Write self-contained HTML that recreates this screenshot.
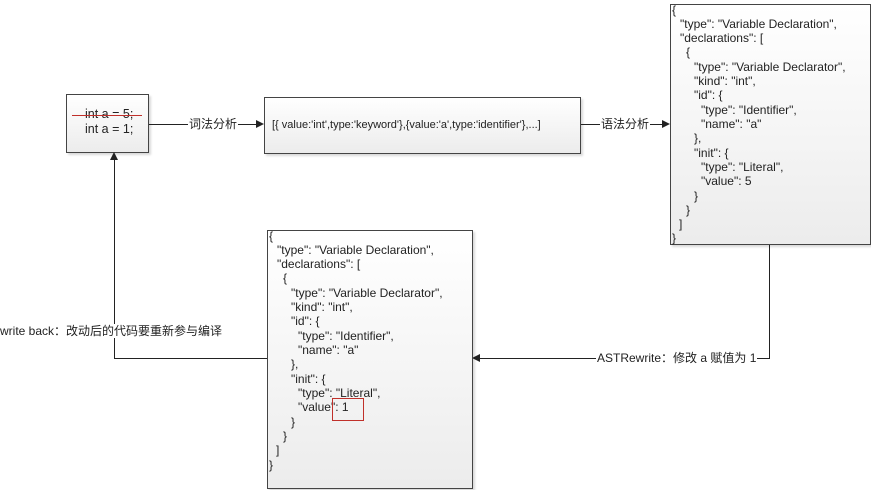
<!DOCTYPE html>
<html><head><meta charset="utf-8"><style>
body{margin:0;width:871px;height:490px;background:#fff;position:relative;overflow:hidden;font-family:"Liberation Sans","Noto Sans CJK SC",sans-serif;color:#222}
.box{position:absolute;border:1px solid #444;background:linear-gradient(#fff,#ececec);box-shadow:2px 2px 2px rgba(0,0,0,.15);box-sizing:border-box}
.l{position:absolute;font-size:12px;white-space:pre;line-height:14px}
.h{position:absolute;height:1px;background:#222}
.v{position:absolute;width:1px;background:#222}
.lab{position:absolute;font-size:12px;background:#fff;white-space:pre;line-height:14px}
</style></head><body>
<div class="box" style="left:66px;top:94px;width:83px;height:59px"></div>
<div class="l" style="left:85px;top:107px;font-size:12.5px">int a = 5;</div>
<div style="position:absolute;left:72px;top:115px;width:70px;height:1px;background:#c0302a"></div>
<div class="l" style="left:85px;top:122px;font-size:12.5px">int a = 1;</div>

<div class="box" style="left:264px;top:97px;width:317px;height:57px"></div>
<div class="l" style="left:272px;top:118px;font-size:11px">[{ value:'int',type:'keyword'},{value:'a',type:'identifier'},...]</div>

<div class="h" style="left:149px;top:124px;width:110px"></div>
<div class="lab" style="left:188px;top:117px;padding:0 1px">词法分析</div>
<svg style="position:absolute;left:256px;top:120px" width="9" height="9"><polygon points="0,0 8,4 0,8" fill="#222"/></svg>

<div class="h" style="left:581px;top:124px;width:84px"></div>
<div class="lab" style="left:600px;top:117px;padding:0 1px">语法分析</div>
<svg style="position:absolute;left:662px;top:120px" width="9" height="9"><polygon points="0,0 8,4 0,8" fill="#222"/></svg>

<div class="box" style="left:670px;top:4px;width:201px;height:241px"></div>
<div class="l" style="left:672px;top:3px">{</div>
<div class="l" style="left:680px;top:17px">"type": "Variable Declaration",</div>
<div class="l" style="left:680px;top:31px">"declarations": [</div>
<div class="l" style="left:686px;top:45px">{</div>
<div class="l" style="left:694px;top:60px">"type": "Variable Declarator",</div>
<div class="l" style="left:694px;top:74px">"kind": "int",</div>
<div class="l" style="left:694px;top:88px">"id": {</div>
<div class="l" style="left:701px;top:103px">"type": "Identifier",</div>
<div class="l" style="left:701px;top:117px">"name": "a"</div>
<div class="l" style="left:694px;top:131px">},</div>
<div class="l" style="left:694px;top:146px">"init": {</div>
<div class="l" style="left:701px;top:160px">"type": "Literal",</div>
<div class="l" style="left:701px;top:174px">"value": 5</div>
<div class="l" style="left:694px;top:189px">}</div>
<div class="l" style="left:686px;top:203px">}</div>
<div class="l" style="left:679px;top:217px">]</div>
<div class="l" style="left:672px;top:231px">}</div>

<div class="v" style="left:769px;top:245px;height:113px"></div>
<div class="h" style="left:478px;top:358px;width:292px"></div>
<div class="lab" style="left:596px;top:351px;padding:0 1px">ASTRewrite：修改 a 赋值为 1</div>
<svg style="position:absolute;left:472px;top:354px" width="9" height="9"><polygon points="8,0 0,4 8,8" fill="#222"/></svg>

<div class="box" style="left:267px;top:230px;width:206px;height:259px"></div>
<div class="l" style="left:269px;top:229px">{</div>
<div class="l" style="left:277px;top:243px">"type": "Variable Declaration",</div>
<div class="l" style="left:277px;top:257px">"declarations": [</div>
<div class="l" style="left:283px;top:271px">{</div>
<div class="l" style="left:291px;top:286px">"type": "Variable Declarator",</div>
<div class="l" style="left:291px;top:300px">"kind": "int",</div>
<div class="l" style="left:291px;top:314px">"id": {</div>
<div class="l" style="left:298px;top:329px">"type": "Identifier",</div>
<div class="l" style="left:298px;top:343px">"name": "a"</div>
<div class="l" style="left:291px;top:357px">},</div>
<div class="l" style="left:291px;top:372px">"init": {</div>
<div class="l" style="left:298px;top:386px">"type": "Literal",</div>
<div class="l" style="left:298px;top:400px">"value": 1</div>
<div class="l" style="left:291px;top:415px">}</div>
<div class="l" style="left:283px;top:429px">}</div>
<div class="l" style="left:276px;top:443px">]</div>
<div class="l" style="left:269px;top:458px">}</div>
<div style="position:absolute;left:332px;top:398px;width:30px;height:21px;border:1px solid #c0302a"></div>

<div class="h" style="left:114px;top:358px;width:153px"></div>
<div class="v" style="left:114px;top:158px;height:200px"></div>
<svg style="position:absolute;left:110px;top:152px" width="9" height="9"><polygon points="0,8 4,0 8,8" fill="#222"/></svg>
<div class="lab" style="left:0px;top:324px">write back：改动后的代码要重新参与编译</div>
</body></html>
